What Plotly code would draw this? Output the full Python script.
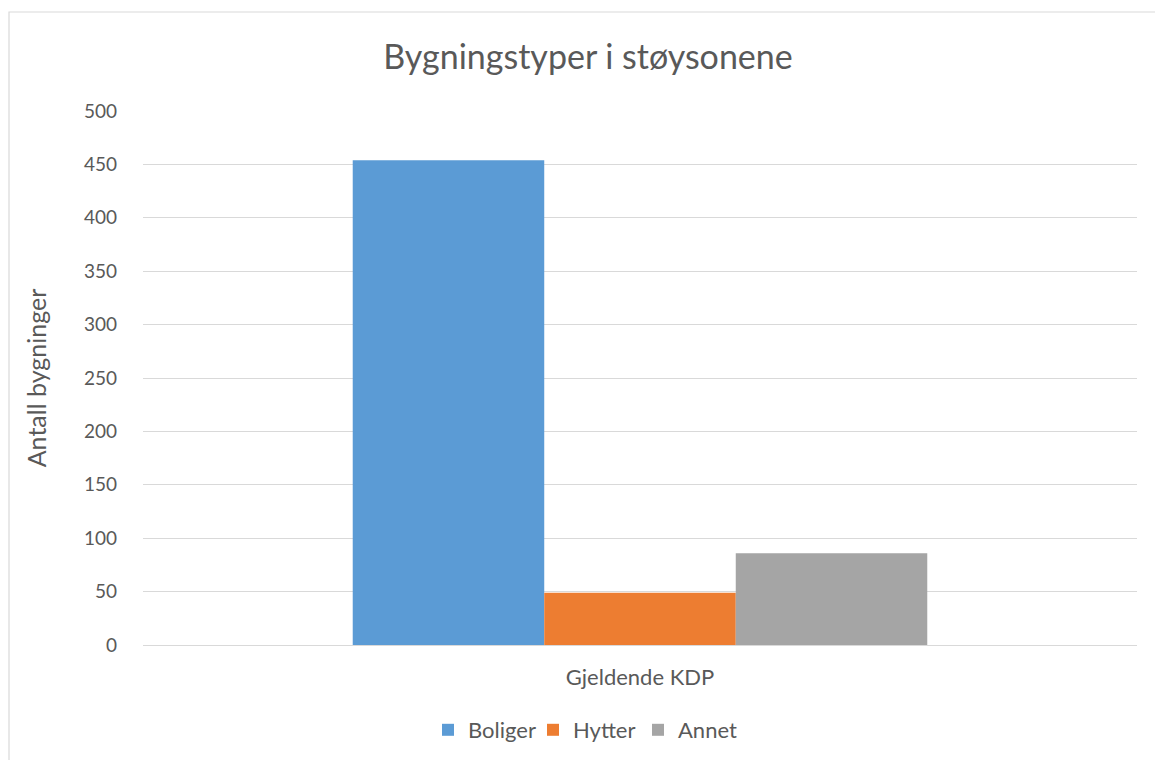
import plotly.graph_objects as go

categories = ["Gjeldende KDP"]
series_names = ["Boliger", "Hytter", "Annet"]
boliger = [454]
hytter = [49]
annet = [86]
y_ticks = [0, 50, 100, 150, 200, 250, 300, 350, 400, 450, 500]

colors = ["#5B9BD5", "#ED7D31", "#A5A5A5"]
text_color = "#595959"
grid_color = "#D9D9D9"
font_family = "Lato, 'Open Sans', sans-serif"

# plot area in pixels
L, R, T, B = 143, 18, 111, 115
PW = 1155 - L - R
PH = 760 - T - B

fig = go.Figure()
for name, vals, col in zip(series_names, [boliger, hytter, annet], colors):
    fig.add_trace(go.Bar(x=categories, y=vals, name=name, marker=dict(color=col, line=dict(width=0))))

fig.update_layout(
    width=1155,
    height=760,
    paper_bgcolor="white",
    plot_bgcolor="white",
    barmode="group",
    bargap=0.422,
    bargroupgap=0,
    margin=dict(l=L, r=R, t=T, b=B, autoexpand=False),
    font=dict(family=font_family, color=text_color, size=19),
    title=dict(
        text="Bygningstyper i støysonene",
        x=588 / 1155, xanchor="center",
        y=1 - 57 / 760, yanchor="middle", yref="container",
        font=dict(size=34, color=text_color, family=font_family),
    ),
    legend=dict(
        orientation="h",
        x=(428 - L) / PW, xanchor="left",
        y=-(730 - (T + PH)) / PH, yanchor="middle",
        font=dict(size=22, color=text_color),
        traceorder="normal",
        itemwidth=30,
        entrywidth=60,
        entrywidthmode="pixels",
    ),
    xaxis=dict(
        showgrid=False,
        showline=True,
        linecolor=grid_color,
        linewidth=1.3,
        ticks="",
        tickfont=dict(size=22, color=text_color),
        ticklabelstandoff=12,
    ),
    yaxis=dict(
        range=[0, 500],
        tickvals=y_ticks,
        showgrid=True,
        gridcolor=grid_color,
        gridwidth=1.3,
        zeroline=False,
        showline=False,
        ticks="",
        tickfont=dict(size=19, color=text_color),
        ticklabelstandoff=25,
        title=dict(text="Antall bygninger", font=dict(size=25, color=text_color), standoff=30),
    ),
    shapes=[
        dict(
            type="rect", xref="paper", yref="paper",
            x0=(9 - L) / PW, x1=1.05,
            y0=-0.3, y1=(T + PH - 12) / PH,
            line=dict(color=grid_color, width=1.2),
            fillcolor="rgba(0,0,0,0)",
            layer="below",
        )
    ],
)

fig.write_html("out.html")
